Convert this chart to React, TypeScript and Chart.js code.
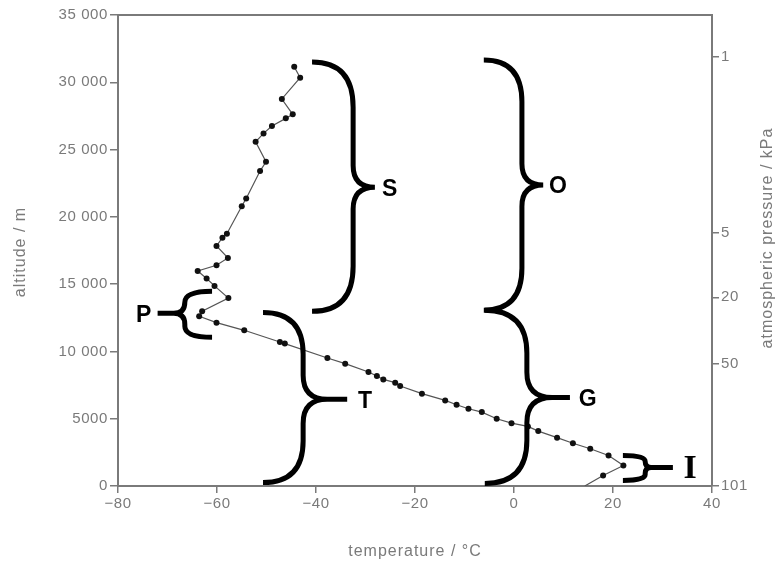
import React, { useEffect, useRef } from 'react';
import { Chart, registerables } from 'chart.js';

Chart.register(...registerables);

// Sounding data: temperature (°C) vs altitude (m), ordered from the ground upward
const temperatures = [
  14.3, 18.0, 22.1, 19.1, 15.4, 11.9, 8.7, 4.9, 2.8, -0.5, -3.5, -6.5, -9.2, -11.6,
  -13.9, -18.6, -23.0, -24.0, -26.4, -27.7, -29.4, -34.1, -37.7, -46.3, -47.3, -54.5,
  -60.1, -63.6, -63.0, -57.7, -60.5, -62.1, -63.9, -60.1, -57.8, -60.1, -58.9, -58.0,
  -55.0, -54.1, -51.3, -50.1, -52.2, -50.6, -48.9, -46.1, -44.7, -46.9, -43.2, -44.4,
];
const altitudes = [
  0, 780, 1525, 2270, 2770, 3180, 3590, 4080, 4430, 4670, 5000, 5490, 5740, 6040,
  6360, 6860, 7430, 7680, 7920, 8170, 8470, 9090, 9510, 10580, 10700, 11570,
  12140, 12610, 12980, 13970, 14870, 15420, 15980, 16400, 16950, 17840, 18450, 18750,
  20790, 21370, 23400, 24090, 25580, 26200, 26750, 27320, 27620, 28760, 30340, 31160,
];

// Right-hand axis: pressure labels and the altitudes where they sit
const pressureLabels = ['101', '50', '20', '5', '1'];
const pressureAltitudes = [0, 9110, 14020, 18790, 31880];

// Temperature axis tick values
const temperatureTicks = [-80, -60, -40, -20, 0, 20, 40];

// Brace annotations (data coordinates): end, spine, tip temps; top, bottom, mid altitudes
const braceLetters = ['S', 'O', 'T', 'G', 'P', 'I'];
const braceEnds = [-40.8, -6.1, -50.7, -5.9, -61.0, 22.0];
const braceSpines = [-32.5, 1.6, -42.6, 2.6, -66.5, 26.5];
const braceTips = [-28.1, 5.9, -33.7, 11.3, -72.0, 32.1];
const braceTops = [31500, 31660, 12900, 13060, 14470, 2270];
const braceBottoms = [12980, 13060, 260, 190, 11050, 410];
const braceMids = [22200, 22360, 6440, 6580, 12830, 1380];
const labelTemps = [-25.1, 8.9, -30.1, 14.9, -74.8, 35.6];

const GREY = '#7a7a7a';

function drawBrace(
  ctx: CanvasRenderingContext2D,
  xEnd: number, xSpine: number, xTip: number,
  yTop: number, yBot: number, yMid: number
) {
  const dir = xTip > xSpine ? 1 : -1;
  const w = Math.abs(xSpine - xEnd);
  const rEnd = Math.min(w * 1.1, (yMid - yTop) / 2, (yBot - yMid) / 2);
  const rMid = Math.min(w * 0.6, (yMid - yTop) / 2, (yBot - yMid) / 2, Math.abs(xTip - xSpine));
  ctx.beginPath();
  ctx.moveTo(xEnd, yTop);
  ctx.quadraticCurveTo(xSpine, yTop, xSpine, yTop + rEnd);
  ctx.lineTo(xSpine, yMid - rMid);
  ctx.quadraticCurveTo(xSpine, yMid, xSpine + dir * rMid, yMid);
  ctx.lineTo(xTip, yMid);
  ctx.moveTo(xSpine + dir * rMid, yMid);
  ctx.quadraticCurveTo(xSpine, yMid, xSpine, yMid + rMid);
  ctx.lineTo(xSpine, yBot - rEnd);
  ctx.quadraticCurveTo(xSpine, yBot, xEnd, yBot);
  ctx.stroke();
}

const annotationPlugin = {
  id: 'annotations',
  beforeDraw(chart: any) {
    (chart.ctx as any).letterSpacing = '0.6px';
  },
  afterDraw(chart: any) {
    const ctx: CanvasRenderingContext2D = chart.ctx;
    const xs = chart.scales.x;
    const ys = chart.scales.y;
    const area = chart.chartArea;
    ctx.save();
    // frame top line
    ctx.strokeStyle = GREY;
    ctx.lineWidth = 2;
    ctx.beginPath();
    ctx.moveTo(area.left, area.top);
    ctx.lineTo(area.right, area.top);
    ctx.stroke();

    // braces
    (ctx as any).letterSpacing = '0px';
    ctx.strokeStyle = '#000';
    ctx.lineWidth = 5;
    ctx.lineCap = 'butt';
    ctx.lineJoin = 'round';
    for (let i = 0; i < braceLetters.length; i++) {
      drawBrace(
        ctx,
        xs.getPixelForValue(braceEnds[i]),
        xs.getPixelForValue(braceSpines[i]),
        xs.getPixelForValue(braceTips[i]),
        ys.getPixelForValue(braceTops[i]),
        ys.getPixelForValue(braceBottoms[i]),
        ys.getPixelForValue(braceMids[i])
      );
      const letter = braceLetters[i];
      ctx.fillStyle = '#000';
      ctx.textAlign = 'center';
      ctx.textBaseline = 'middle';
      ctx.font = letter === 'I'
        ? 'bold 34px "Liberation Serif", "DejaVu Serif", serif'
        : 'bold 23px "Liberation Sans", Arial, sans-serif';
      ctx.fillText(letter, xs.getPixelForValue(labelTemps[i]), ys.getPixelForValue(braceMids[i]) + 2);
    }

    // axis titles
    (ctx as any).letterSpacing = '1px';
    ctx.fillStyle = GREY;
    ctx.font = '16px "Liberation Sans", Arial, sans-serif';
    ctx.textAlign = 'center';
    ctx.textBaseline = 'middle';
    ctx.fillText('temperature / °C', (area.left + area.right) / 2, 552);

    ctx.save();
    ctx.translate(21, 252);
    ctx.rotate(-Math.PI / 2);
    ctx.fillText('altitude / m', 0, 0);
    ctx.restore();

    ctx.save();
    ctx.translate(768, 238);
    ctx.rotate(-Math.PI / 2);
    ctx.fillText('atmospheric pressure / kPa', 0, 0);
    ctx.restore();

    ctx.restore();
  },
};

function formatAltitude(v: number): string {
  if (v >= 10000) {
    const s = String(v);
    return s.slice(0, s.length - 3) + ' ' + s.slice(s.length - 3);
  }
  return String(v);
}

export default function App() {
  const canvasRef = useRef<HTMLCanvasElement | null>(null);

  useEffect(() => {
    const canvas = canvasRef.current;
    if (!canvas) return;
    const points = temperatures.map((t, i) => ({ x: t, y: altitudes[i] }));
    const tickFont = { family: '"Liberation Sans", Arial, sans-serif', size: 15 };
    const chart = new Chart(canvas, {
      type: 'scatter',
      data: {
        datasets: [
          {
            data: points,
            showLine: true,
            borderColor: '#555',
            borderWidth: 1.2,
            backgroundColor: '#111',
            pointBackgroundColor: '#111',
            pointBorderColor: '#111',
            pointRadius: (c: any) => (c.dataIndex === 0 ? 0 : 3),
            pointBorderWidth: 0,
          },
        ],
      },
      options: {
        animation: false,
        responsive: false,
        maintainAspectRatio: false,
        layout: { padding: { top: 15, left: 0, right: 0, bottom: 0 } },
        plugins: { legend: { display: false }, tooltip: { enabled: false } },
        scales: {
          x: {
            type: 'linear',
            min: -80,
            max: 40,
            afterBuildTicks: (scale: any) => {
              scale.ticks = temperatureTicks.map((v) => ({ value: v }));
            },
            afterFit: (scale: any) => {
              scale.height = 84;
            },
            ticks: {
              color: GREY,
              font: tickFont,
              padding: 2,
              callback: (v: any) => (Number(v) < 0 ? '\u2212' + Math.abs(Number(v)) : String(v)),
            },
            grid: { drawOnChartArea: false, drawTicks: true, tickLength: 7, color: GREY, lineWidth: 1.5 },
            border: { display: true, color: GREY, width: 2 },
          },
          y: {
            type: 'linear',
            min: 0,
            max: 35000,
            afterBuildTicks: (scale: any) => {
              const t = [];
              for (let v = 0; v <= 35000; v += 5000) t.push({ value: v });
              scale.ticks = t;
            },
            afterFit: (scale: any) => {
              scale.width = 118;
            },
            ticks: {
              color: GREY,
              font: tickFont,
              padding: 2,
              callback: (v: any) => formatAltitude(Number(v)),
            },
            grid: { drawOnChartArea: false, drawTicks: true, tickLength: 8, color: GREY, lineWidth: 1.5 },
            border: { display: true, color: GREY, width: 2 },
          },
          y2: {
            type: 'linear',
            position: 'right',
            min: 0,
            max: 35000,
            afterBuildTicks: (scale: any) => {
              scale.ticks = pressureAltitudes.map((v) => ({ value: v }));
            },
            afterFit: (scale: any) => {
              scale.width = 68;
            },
            ticks: {
              color: GREY,
              font: tickFont,
              padding: 2,
              callback: (_v: any, i: number) => pressureLabels[i],
            },
            grid: { drawOnChartArea: false, drawTicks: true, tickLength: 7, color: GREY, lineWidth: 1.5 },
            border: { display: true, color: GREY, width: 2 },
          },
        },
      },
      plugins: [annotationPlugin],
    } as any);
    return () => chart.destroy();
  }, []);

  return (
    <div style={{ position: 'fixed', left: 0, top: 0, width: 780, height: 570, background: '#fff' }}>
      <canvas ref={canvasRef} width={780} height={570} style={{ width: 780, height: 570, display: 'block' }} />
    </div>
  );
}
